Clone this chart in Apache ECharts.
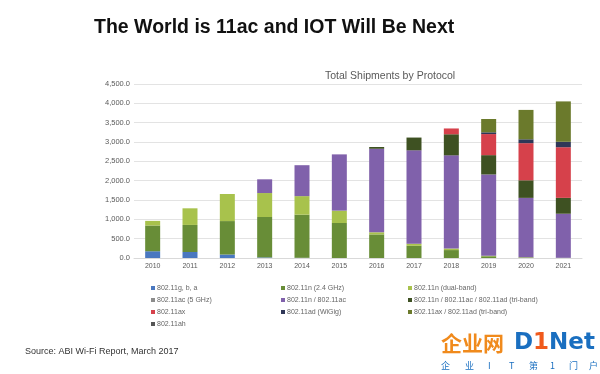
<!DOCTYPE html>
<html><head><meta charset="utf-8">
<script src="https://cdn.jsdelivr.net/npm/echarts@6/dist/echarts.min.js"></script>
<style>html,body{margin:0;padding:0;background:#fff}#c{width:600px;height:374px}</style>
</head><body><div id="c"></div>
<script>
const years = ['2010','2011','2012','2013','2014','2015','2016','2017','2018','2019','2020','2021'];
const yTicks = [0,500,1000,1500,2000,2500,3000,3500,4000,4500];
const s_gba    = [175,155,90,15,5,0,0,0,0,0,0,0];
const s_n24    = [665,700,865,1045,1115,905,610,315,205,45,15,5];
const s_nDual  = [120,430,700,620,480,320,55,55,40,15,5,0];
const s_ac5    = [0,0,0,0,0,0,0,0,0,0,0,0];
const s_nac    = [0,0,0,355,800,1455,2160,2415,2410,2100,1535,1140];
const s_tri    = [0,0,0,0,0,0,45,330,545,500,455,410];
const s_ax     = [0,0,0,0,0,0,0,0,150,545,960,1310];
const s_wigig  = [0,0,0,0,0,0,0,0,0,45,100,140];
const s_axAd   = [0,0,0,0,0,0,0,0,0,345,760,1045];
const s_ah     = [0,0,0,0,0,0,0,0,0,0,0,0];
const names = ['802.11g, b, a','802.11n (2.4 GHz)','802.11n (dual-band)','802.11ac (5 GHz)','802.11n / 802.11ac','802.11n / 802.11ac / 802.11ad (tri-band)','802.11ax','802.11ad (WiGig)','802.11ax / 802.11ad (tri-band)','802.11ah'];
const values = [s_gba,s_n24,s_nDual,s_ac5,s_nac,s_tri,s_ax,s_wigig,s_axAd,s_ah];
const colors = ['#4a78c0','#688d37','#a8c24c','#8c8c8c','#8061ab','#3e5122','#d6414b','#2f3757','#6b7a2c','#555555'];
const sloganChars = ['企','业','I','T','第','1','门','户'];
const sloganX = [441,465,488,509,529,550,569,589];

const chart = echarts.init(document.getElementById('c'));
const legendBase = {orient:'vertical', icon:'rect', itemWidth:4, itemHeight:4, itemGap:4, selectedMode:false,
  textStyle:{fontSize:7, color:'#666', fontFamily:'Liberation Sans, Arial', lineHeight:8, padding:[0,0,0,-3]}};
chart.setOption({
  animation:false,
  textStyle:{fontFamily:'Liberation Sans, Arial'},
  title:[
    {text:'The World is 11ac and IOT Will Be Next', left:89, top:13,
     textStyle:{fontSize:19.5, fontWeight:'bold', color:'#111', fontFamily:'Liberation Sans, Arial'}},
    {text:'Total Shipments by Protocol', left:320, top:66,
     textStyle:{fontSize:10.5, fontWeight:'normal', color:'#595959', fontFamily:'Liberation Sans, Arial'}}
  ],
  legend:[
    Object.assign({}, legendBase, {left:146, top:279, data:[names[0],names[3],names[6],names[9]]}),
    Object.assign({}, legendBase, {left:276, top:279, data:[names[1],names[4],names[7]]}),
    Object.assign({}, legendBase, {left:403, top:279, data:[names[2],names[5],names[8]]})
  ],
  grid:{left:134, right:18, top:84, bottom:116},
  xAxis:{type:'category', data:years,
    axisLine:{lineStyle:{color:'#d9d9d9'}}, axisTick:{show:false},
    axisLabel:{fontSize:7, color:'#595959', margin:5}},
  yAxis:{type:'value', min:yTicks[0], max:yTicks[yTicks.length-1], interval:500,
    axisLine:{show:false}, axisTick:{show:false},
    splitLine:{lineStyle:{color:'#e3e3e3'}},
    axisLabel:{fontSize:7.5, color:'#595959', margin:4,
      formatter:v=>v.toLocaleString('en-US',{minimumFractionDigits:1,maximumFractionDigits:1})}},
  series:names.map((n,i)=>({name:n, type:'bar', stack:'t', barWidth:15, data:values[i],
    itemStyle:{color:colors[i]}})),
  graphic:[
    {type:'text', left:25, top:347, style:{text:'Source: ABI Wi-Fi Report, March 2017', fontSize:9, fill:'#333', fontFamily:'Liberation Sans, Arial'}},
    {type:'text', left:441, top:333, style:{text:'企业网', fontSize:21, fontWeight:'bold', fill:'#f08a1c', fontFamily:'Noto Sans CJK SC'}},
    {type:'text', left:514, top:332, style:{rich:{a:{fontSize:23,fontWeight:'bold',fill:'#1a6fc0',fontFamily:'DejaVu Sans'},b:{fontSize:23,fontWeight:'bold',fill:'#f05a1c',fontFamily:'DejaVu Sans'}}, text:'{a|D}{b|1}{a|Net}'}}
  ].concat(sloganChars.map((c,i)=>({type:'text', left:sloganX[i], top:361,
    style:{text:c, fontSize:9, fill:'#1a6fc0', fontFamily:'Noto Sans CJK SC'}})))
});
</script></body></html>
